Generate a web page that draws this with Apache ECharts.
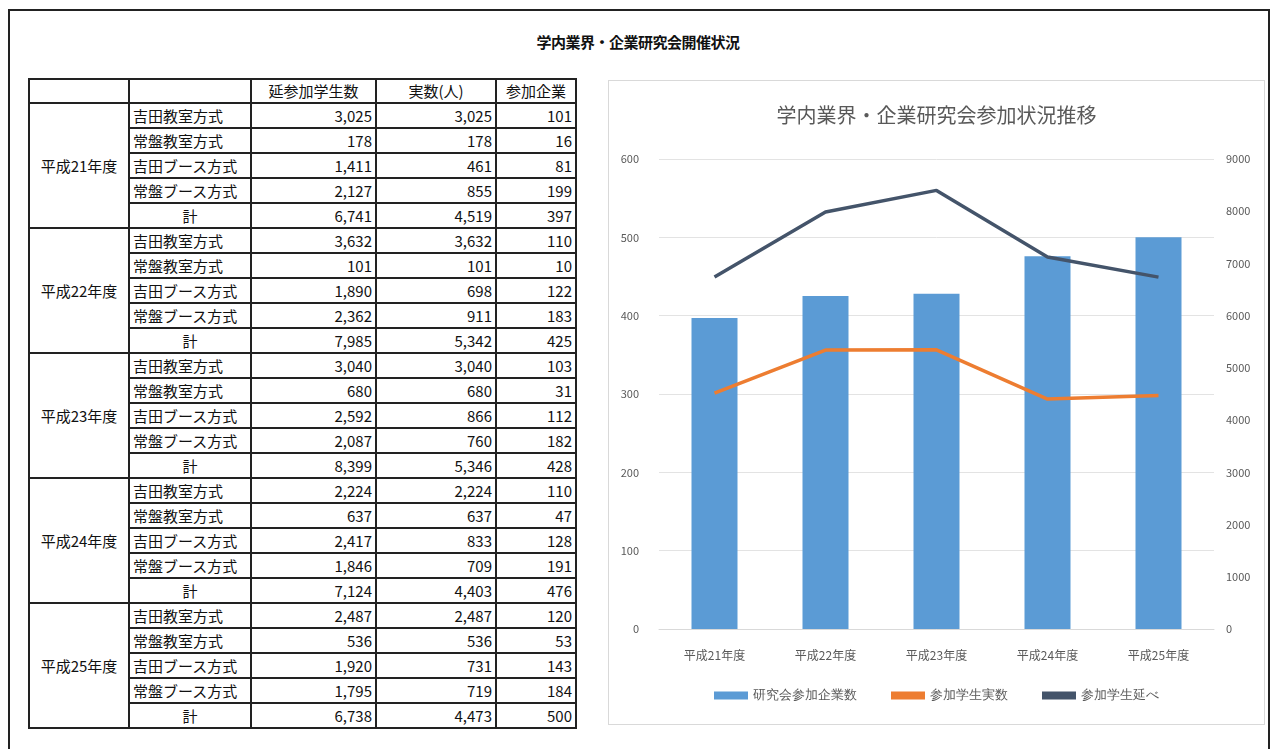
<!DOCTYPE html>
<html><head><meta charset="utf-8">
<script src="https://cdn.jsdelivr.net/npm/echarts@6/dist/echarts.min.js"></script>
<style>
html,body{margin:0;padding:0;background:#fff;width:1276px;height:749px;overflow:hidden;font-family:"Noto Sans CJK JP","Noto Sans",sans-serif;}
#frame{position:absolute;left:8px;top:9px;width:1262px;height:760px;border:2px solid #222;box-sizing:border-box;}
#maintitle{position:absolute;left:0;width:1276px;top:31px;text-align:center;font-size:15px;font-weight:bold;color:#111;letter-spacing:-0.5px;}
#tbl{position:absolute;left:28px;top:78px;border-collapse:collapse;table-layout:fixed;}
#tbl td{border:2px solid #222;padding:0 3px;height:23px;font-size:15px;line-height:23px;color:#111;white-space:nowrap;overflow:hidden;}
#tbl tr.hd td{height:22px;line-height:22px;}
#tbl td.num{text-align:right;}
#tbl td.c{text-align:center;}
#tbl td.yr{text-align:center;font-size:15px;}
#chartbox{position:absolute;left:608px;top:80px;width:657px;height:645px;border:1px solid #d9d9d9;box-sizing:border-box;}
#chart{position:absolute;left:608px;top:80px;width:657px;height:645px;}
</style>
</head><body>
<div id="frame"></div>
<div id="maintitle">学内業界・企業研究会開催状況</div>
<table id="tbl"><tbody id="tb"></tbody></table>
<div id="chartbox"></div>
<div id="chart"></div>
<script>
// ---- data ----
const pageTitle = "学内業界・企業研究会開催状況";
const chartTitle = "学内業界・企業研究会参加状況推移";
const years = ["平成21年度","平成22年度","平成23年度","平成24年度","平成25年度"];
const methods = ["吉田教室方式","常盤教室方式","吉田ブース方式","常盤ブース方式","計"];
const headers = ["延参加学生数","実数(人)","参加企業"];
// per year: rows in method order, [延参加学生数, 実数, 参加企業]
const h21 = [[3025,3025,101],[178,178,16],[1411,461,81],[2127,855,199],[6741,4519,397]];
const h22 = [[3632,3632,110],[101,101,10],[1890,698,122],[2362,911,183],[7985,5342,425]];
const h23 = [[3040,3040,103],[680,680,31],[2592,866,112],[2087,760,182],[8399,5346,428]];
const h24 = [[2224,2224,110],[637,637,47],[2417,833,128],[1846,709,191],[7124,4403,476]];
const h25 = [[2487,2487,120],[536,536,53],[1920,731,143],[1795,719,184],[6738,4473,500]];
const tableData = [h21,h22,h23,h24,h25];
// chart series
const seriesNames = ["研究会参加企業数","参加学生実数","参加学生延べ"];
const companies = [397,425,428,476,500];
const studentsReal = [4519,5342,5346,4403,4473];
const studentsTotal = [6741,7985,8399,7124,6738];

// ---- table ----
const tb = document.getElementById('tb');
const widths = [100,122,125,120,80];
let hr = document.createElement('tr'); hr.className='hd';
['',''].concat(headers).forEach((h,i)=>{const td=document.createElement('td');td.textContent=h;td.className='c';td.style.width=(widths[i]-8)+'px';hr.appendChild(td);});
tb.appendChild(hr);
const fmt = v => v.toLocaleString('en-US');
tableData.forEach((rows,yi)=>{
  rows.forEach((r,ri)=>{
    const tr=document.createElement('tr');
    if(ri===0){const td=document.createElement('td');td.rowSpan=5;td.className='yr';td.textContent=years[yi];tr.appendChild(td);}
    const m=document.createElement('td');m.textContent=methods[ri];m.className = ri===4?'c':'';tr.appendChild(m);
    r.forEach(v=>{const td=document.createElement('td');td.className='num';td.textContent=fmt(v);tr.appendChild(td);});
    tb.appendChild(tr);
  });
});

// ---- chart ----
const chart = echarts.init(document.getElementById('chart'));
const axisText = {color:'#595959',fontSize:11,fontFamily:'"Noto Sans CJK JP",sans-serif'};
chart.setOption({
  animation:false,
  title:{text:chartTitle,left:'center',top:20,textStyle:{color:'#595959',fontSize:20,fontWeight:'normal',fontFamily:'"Noto Sans CJK JP",sans-serif'}},
  legend:{bottom:18,itemGap:34,itemWidth:34,itemHeight:8,textStyle:{color:'#595959',fontSize:13},
    data:[{name:seriesNames[0],icon:'rect'},{name:seriesNames[1],icon:'rect'},{name:seriesNames[2],icon:'rect'}]},
  grid:{left:51,right:51,top:79,bottom:96,containLabel:false},
  xAxis:{type:'category',data:years,axisLine:{lineStyle:{color:'#d9d9d9'}},axisTick:{show:false},axisLabel:Object.assign({margin:20,fontSize:12},axisText,{fontSize:12})},
  yAxis:[
    {type:'value',min:0,max:600,interval:100,axisLine:{show:false},axisTick:{show:false},axisLabel:Object.assign({margin:20},axisText),splitLine:{lineStyle:{color:'#e3e3e3',width:1}}},
    {type:'value',min:0,max:9000,interval:1000,axisLine:{show:false},axisTick:{show:false},axisLabel:Object.assign({margin:12,formatter:v=>String(v)},axisText),splitLine:{show:false}}
  ],
  series:[
    {name:seriesNames[0],type:'bar',data:companies,barWidth:46,itemStyle:{color:'#5B9BD5'}},
    {name:seriesNames[1],type:'line',yAxisIndex:1,data:studentsReal,symbol:'none',lineStyle:{color:'#ED7D31',width:3.5},itemStyle:{color:'#ED7D31'}},
    {name:seriesNames[2],type:'line',yAxisIndex:1,data:studentsTotal,symbol:'none',lineStyle:{color:'#44546A',width:3.5},itemStyle:{color:'#44546A'}}
  ]
});
</script>
</body></html>
